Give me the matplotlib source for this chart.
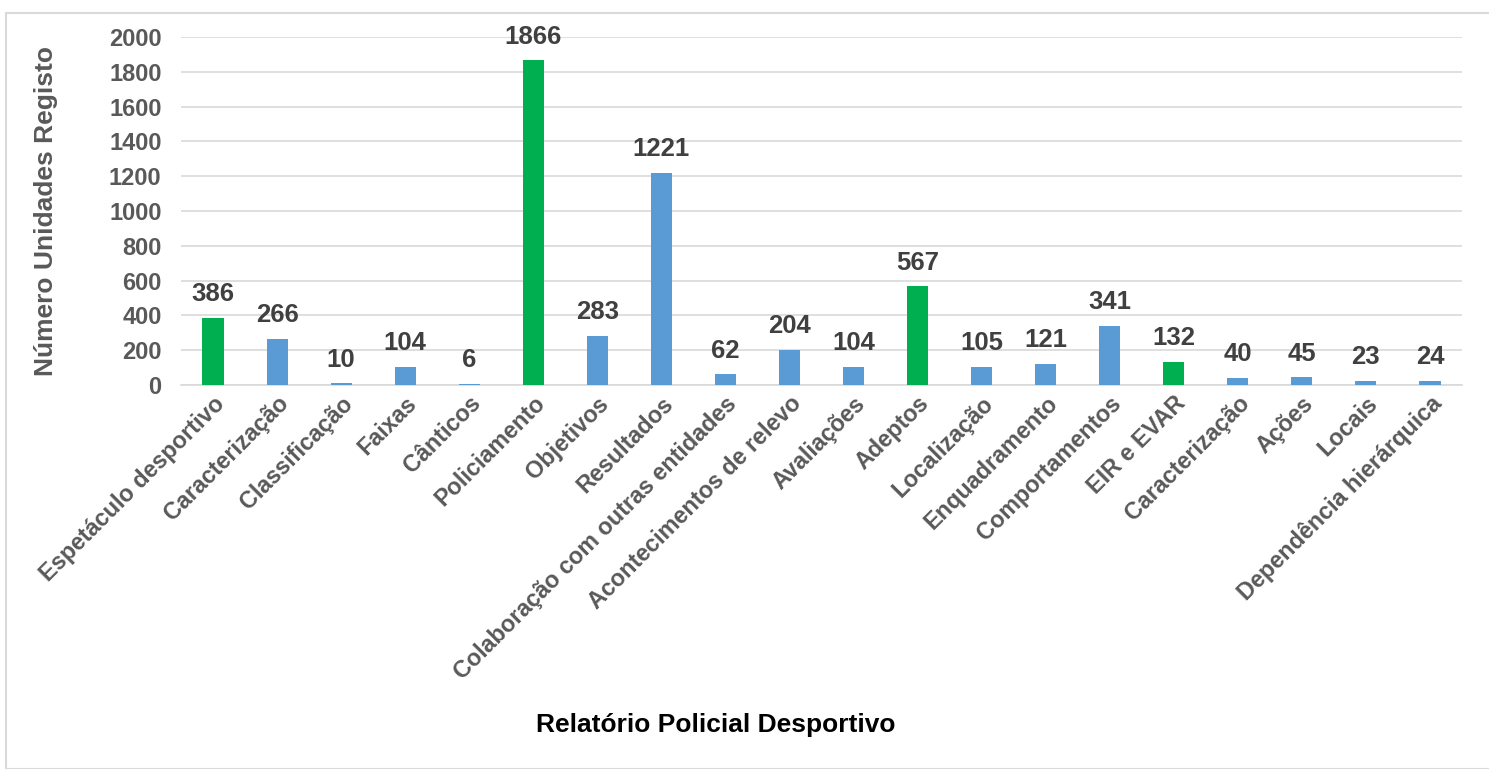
import matplotlib.pyplot as plt
from matplotlib.patches import Rectangle

plt.rcParams['font.family'] = ['Liberation Sans', 'DejaVu Sans']

categories = ["Espetáculo desportivo", "Caracterização", "Classificação", "Faixas",
              "Cânticos", "Policiamento", "Objetivos", "Resultados",
              "Colaboração com outras entidades", "Acontecimentos de relevo",
              "Avaliações", "Adeptos", "Localização", "Enquadramento",
              "Comportamentos", "EIR e EVAR", "Caracterização", "Ações",
              "Locais", "Dependência hierárquica"]
values = [386, 266, 10, 104, 6, 1866, 283, 1221, 62, 204,
          104, 567, 105, 121, 341, 132, 40, 45, 23, 24]
highlighted = [0, 5, 11, 15]

GREEN = "#00B050"
BLUE = "#5B9BD5"
GREY = "#595959"

colors = [GREEN if i in highlighted else BLUE for i in range(len(values))]

fig = plt.figure(figsize=(14.89, 7.69), dpi=100)
ax = fig.add_axes([181 / 1489, 1 - 385 / 769, (1462 - 181) / 1489, (385 - 37) / 769])

x = range(len(values))
ax.bar(x, values, width=0.33, color=colors, zorder=3)
for i, v in zip(x, values):
    ax.annotate(str(v), (i, v), xytext=(0, 17), textcoords="offset points",
                ha="center", va="center", fontsize=18.5,
                fontweight="bold", color="#404040")

ax.set_xlim(-0.5, len(values) - 0.5)
ax.set_ylim(0, 2000)
ax.set_yticks(range(0, 2001, 200))
ax.yaxis.grid(True, color="#D9D9D9", linewidth=1.2, zorder=0)
for s in ["top", "right", "left"]:
    ax.spines[s].set_visible(False)
ax.spines["bottom"].set_color("#D9D9D9")
ax.spines["bottom"].set_linewidth(1.2)
ax.tick_params(axis="both", length=0, colors=GREY, labelsize=17)
ax.tick_params(axis="y", pad=14)
ax.tick_params(axis="x", pad=5)
for lbl in ax.get_yticklabels():
    lbl.set_fontweight("bold")
ax.set_xticks(list(x))
ax.set_xticklabels(categories, rotation=45, ha="right", rotation_mode="anchor",
                   fontsize=16.8, fontweight="bold", color=GREY)

ax.set_ylabel("Número Unidades Registo", fontsize=19, fontweight="bold",
              color=GREY)
ax.yaxis.set_label_coords(-0.096, 0.5)
fig.text(716 / 1489, 1 - 725 / 769, "Relatório Policial Desportivo", ha="center",
         va="center", fontsize=19, fontweight="bold", color="black")

fig.patches.append(Rectangle((6 / 1489, 0), 1.2, 1 - 13 / 769,
                             transform=fig.transFigure, fill=False,
                             edgecolor="#D9D9D9", linewidth=1.5))

fig.savefig("out.png", dpi=100)
